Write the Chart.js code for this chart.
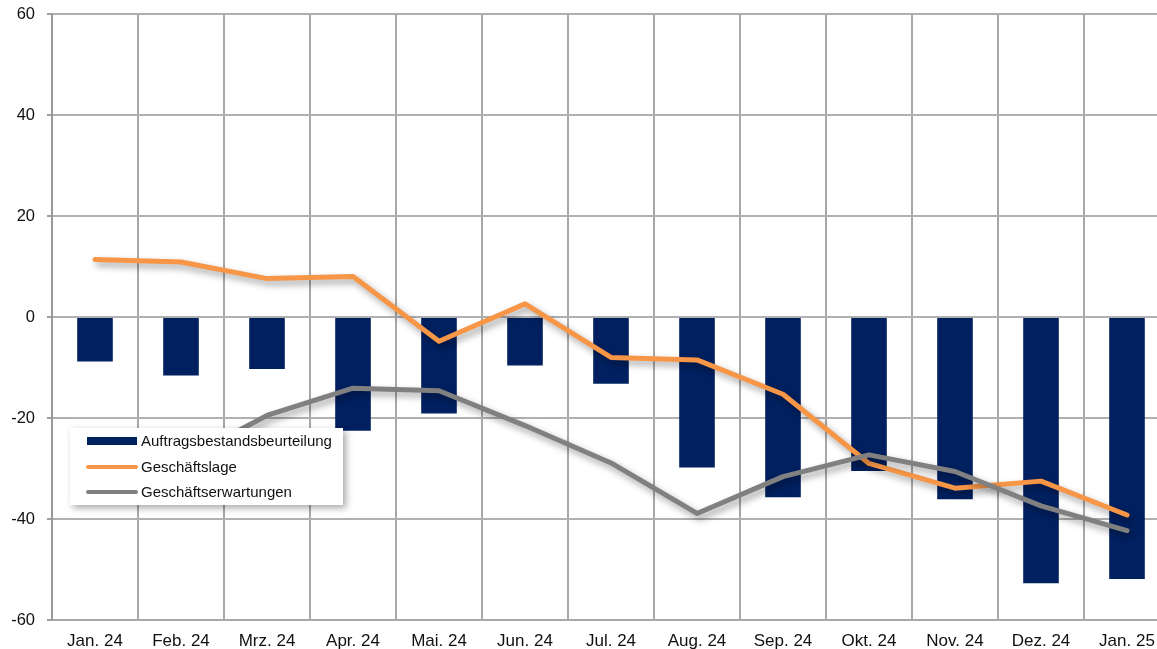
<!DOCTYPE html>
<html>
<head>
<meta charset="utf-8">
<script src="https://cdn.jsdelivr.net/npm/chart.js@4"></script>
<style>
html,body{margin:0;padding:0;background:#fff;overflow:hidden;width:1157px;height:649px;}
#wrap{position:absolute;left:0;top:0;width:1170px;height:652px;}
canvas{display:block;}
</style>
</head>
<body>
<div id="wrap"><canvas id="c" width="1170" height="652"></canvas></div>
<script>
const categories = ['Jan. 24','Feb. 24','Mrz. 24','Apr. 24','Mai. 24','Jun. 24','Jul. 24','Aug. 24','Sep. 24','Okt. 24','Nov. 24','Dez. 24','Jan. 25'];
const auftragsbestand = [-8.8,-11.6,-10.3,-22.5,-19.1,-9.6,-13.2,-29.8,-35.7,-30.5,-36.1,-52.7,-51.9];
const geschaeftslage = [11.4,10.9,7.6,8.0,-4.8,2.6,-8.0,-8.5,-15.3,-29.0,-33.9,-32.5,-39.2];
const geschaeftserwartungen = [-27,-28.5,-19.5,-14.1,-14.6,-21.5,-28.9,-38.9,-31.6,-27.3,-30.6,-37.4,-42.3];
const yTicks = [-60,-40,-20,0,20,40,60];

const FONT = "'Liberation Sans', Arial, sans-serif";
const NAVY = '#002060';
const ORANGE = '#F79646';
const GREY = '#808080';

const shadowPlugin = {
  id: 'lineShadow',
  beforeDatasetDraw(chart, args) {
    const ds = chart.data.datasets[args.index];
    if (ds.type === 'line') {
      const ctx = chart.ctx;
      ctx.save();
      ctx.shadowColor = 'rgba(0,0,0,0.38)';
      ctx.shadowBlur = 7;
      ctx.shadowOffsetX = 3;
      ctx.shadowOffsetY = 4;
    }
  },
  afterDatasetDraw(chart, args) {
    const ds = chart.data.datasets[args.index];
    if (ds.type === 'line') chart.ctx.restore();
  }
};

const legendPlugin = {
  id: 'boxLegend',
  afterDraw(chart) {
    const ctx = chart.ctx;
    const x0 = 70, y0 = 428, w = 273, h = 77;
    ctx.save();
    ctx.shadowColor = 'rgba(0,0,0,0.35)';
    ctx.shadowBlur = 7;
    ctx.shadowOffsetX = 3;
    ctx.shadowOffsetY = 3;
    ctx.fillStyle = '#fff';
    ctx.fillRect(x0, y0, w, h);
    ctx.restore();
    const rowY = [441, 467, 492];
    ctx.save();
    ctx.font = '15px ' + FONT;
    ctx.textBaseline = 'middle';
    chart.data.datasets.forEach((d, i) => {
      const y = rowY[i];
      if (d.type === 'bar') {
        ctx.fillStyle = NAVY;
        ctx.fillRect(87, y - 4, 50, 8);
      } else {
        ctx.strokeStyle = d.borderColor;
        ctx.lineWidth = 4;
        ctx.lineCap = 'round';
        ctx.beginPath();
        ctx.moveTo(88, y);
        ctx.lineTo(136, y);
        ctx.stroke();
      }
      ctx.fillStyle = '#111';
      ctx.fillText(d.label, 141, y + 1);
    });
    ctx.restore();
  }
};

new Chart(document.getElementById('c'), {
  data: {
    labels: categories,
    datasets: [
      {type:'bar', label:'Auftragsbestandsbeurteilung', data: auftragsbestand, backgroundColor: NAVY,
       borderWidth:0, barPercentage:0.414, categoryPercentage:1, order:2},
      {type:'line', label:'Geschäftslage', data: geschaeftslage, borderColor: ORANGE, borderWidth:5,
       pointRadius:0, tension:0, borderCapStyle:'round', borderJoinStyle:'round', order:1},
      {type:'line', label:'Geschäftserwartungen', data: geschaeftserwartungen, borderColor: GREY, borderWidth:5,
       pointRadius:0, tension:0, borderCapStyle:'round', borderJoinStyle:'round', order:0}
    ]
  },
  options: {
    responsive:false,
    animation:false,
    layout:{padding:{top:14,right:0,left:0,bottom:0}},
    plugins:{legend:{display:false}, tooltip:{enabled:false}},
    scales:{
      x:{
        offset:true,
        grid:{offset:true, color:'#a8a8a8', lineWidth:2, drawTicks:false},
        border:{color:'#a8a8a8', width:2},
        ticks:{font:{family:FONT,size:17}, color:'#111', padding:11, maxRotation:0, autoSkip:false},
        afterFit(s){ s.height = 32; }
      },
      y:{
        min:-60, max:60,
        afterBuildTicks(s){ s.ticks = yTicks.map(v=>({value:v})); },
        grid:{color:'#b0b0b0', lineWidth:2, tickLength:5, tickColor:'#a0a0a0'},
        border:{color:'#999', width:2},
        ticks:{font:{family:FONT,size:16.5,lineHeight:0.5}, color:'#111', padding:12},
        afterFit(s){ s.width = 52; s.paddingTop = 0; s.paddingBottom = 0; }
      }
    }
  },
  plugins:[shadowPlugin, legendPlugin]
});
</script>
</body>
</html>
